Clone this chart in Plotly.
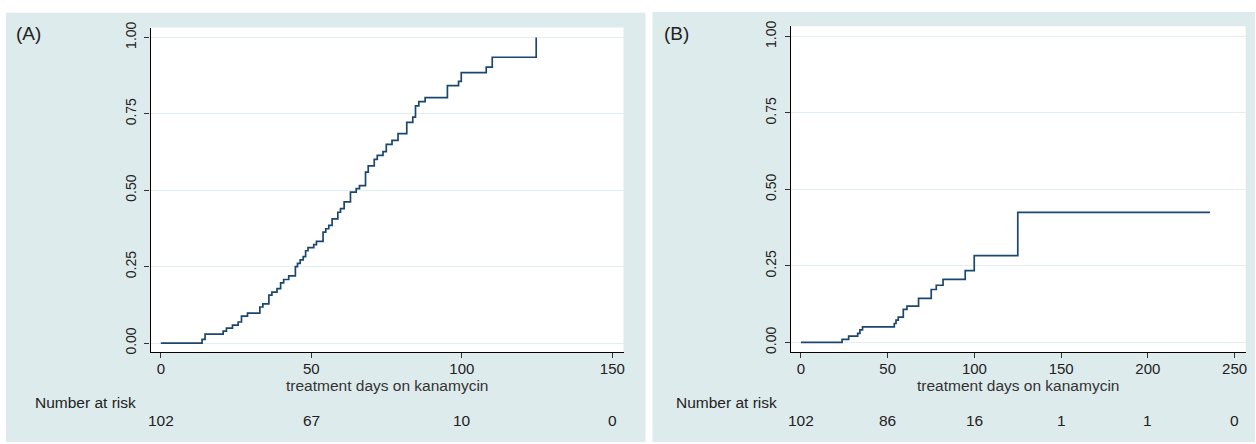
import plotly.graph_objects as go

# ---------------- data ----------------
# Panel A: cumulative incidence steps (day, value after step)
days_a = [0, 13.7, 14.7, 20.7, 21.8, 23.8, 25.7, 26.8, 28.8, 32.9, 33.9, 35.9, 36.9,
          38.6, 39.8, 40.8, 42.5, 44.7, 45.4, 46.3, 47.3, 48.1, 48.9, 50.8, 51.7, 53.9,
          54.8, 55.8, 56.9, 58.8, 59.7, 60.9, 63.0, 64.9, 66.0, 68.0, 68.9, 70.9, 71.9,
          73.8, 74.9, 76.8, 78.8, 81.7, 83.7, 84.6, 85.7, 87.8, 95.2, 98.9, 99.8,
          108.1, 110.1, 124.7]
cum_a = [0, 0.012, 0.029, 0.039, 0.049, 0.059, 0.069, 0.088, 0.098, 0.118, 0.128,
         0.157, 0.167, 0.178, 0.197, 0.208, 0.220, 0.250, 0.261, 0.272, 0.283, 0.302,
         0.312, 0.322, 0.333, 0.363, 0.374, 0.385, 0.406, 0.428, 0.440, 0.462, 0.494,
         0.505, 0.515, 0.559, 0.580, 0.601, 0.614, 0.626, 0.650, 0.663, 0.685, 0.722,
         0.739, 0.776, 0.790, 0.803, 0.842, 0.856, 0.885, 0.903, 0.935, 1.0]

# Panel B
days_b = [0, 23.7, 27.5, 32.7, 34.0, 35.5, 53.8, 54.8, 56.1, 59.0, 61.1, 67.8, 75.1,
          78.0, 81.9, 94.7, 99.9, 125.0, 235.8]
cum_b = [0, 0.010, 0.021, 0.030, 0.041, 0.051, 0.062, 0.073, 0.083, 0.108, 0.119,
         0.144, 0.173, 0.187, 0.206, 0.235, 0.284, 0.425, 0.425]

risk_ticks_a = [0, 50, 100, 150]
risk_a = [102, 67, 10, 0]
risk_ticks_b = [0, 50, 100, 150, 200, 250]
risk_b = [102, 86, 16, 1, 1, 0]

y_ticks = [0, 0.25, 0.5, 0.75, 1.0]
y_labels = ["0.00", "0.25", "0.50", "0.75", "1.00"]
x_title = "treatment days on kanamycin"
risk_title = "Number at risk"
panel_labels = ["(A)", "(B)"]

# ---------------- layout helpers ----------------
W, H = 1256, 444
def fx(x):
    return x / W
def fy(y):
    return 1 - y / H

FONT = "Liberation Sans, Arial, Helvetica, sans-serif"
BG = "#deebec"
GRID = "#e3eef0"
LINE = "#1a476f"

# plot-area pixel boxes
A = dict(l=150.7, r=624.0, t=22.0, b=352.3)
B = dict(l=791.7, r=1246.7, t=20.7, b=352.3)

fig = go.Figure()
fig.add_trace(go.Scatter(x=days_a, y=cum_a, mode="lines", line=dict(shape="hv", color=LINE, width=1.7),
                         xaxis="x", yaxis="y", showlegend=False, hoverinfo="skip"))
fig.add_trace(go.Scatter(x=days_b, y=cum_b, mode="lines", line=dict(shape="hv", color=LINE, width=1.7),
                         xaxis="x2", yaxis="y2", showlegend=False, hoverinfo="skip"))

def xaxis_cfg(box, rng, ticks, anchor):
    return dict(domain=[fx(box["l"]), fx(box["r"])], range=rng, tickvals=ticks,
                ticktext=[str(t) for t in ticks], ticks="outside", ticklen=5, tickwidth=1.2,
                tickcolor="#333", showline=True, linecolor="black", linewidth=1.3,
                showgrid=False, zeroline=False, anchor=anchor, ticklabelstandoff=-2,
                tickfont=dict(family=FONT, size=15, color="#222"))

def yaxis_cfg(box, rng, anchor):
    return dict(domain=[fy(box["b"]), fy(box["t"])], range=rng, tickvals=y_ticks,
                ticktext=y_labels, tickangle=-90, ticks="outside", ticklen=5, tickwidth=1.2,
                tickcolor="#333", showline=True, linecolor="black", linewidth=1.3,
                showgrid=True, gridcolor=GRID, gridwidth=1.3, zeroline=False, anchor=anchor,
                ticklabelstandoff=3,
                tickfont=dict(family=FONT, size=14, color="#222"))

shapes = [
    dict(type="rect", xref="paper", yref="paper", x0=fx(6), x1=fx(646), y0=fy(444), y1=fy(7),
         fillcolor=BG, line=dict(width=0), layer="below"),
    dict(type="rect", xref="paper", yref="paper", x0=fx(653), x1=fx(1256), y0=fy(444), y1=fy(6),
         fillcolor=BG, line=dict(width=0), layer="below"),
    dict(type="rect", xref="paper", yref="paper", x0=fx(A["l"]), x1=fx(A["r"]), y0=fy(A["b"]), y1=fy(A["t"]),
         fillcolor="white", line=dict(width=0), layer="below"),
    dict(type="rect", xref="paper", yref="paper", x0=fx(B["l"]), x1=fx(B["r"]), y0=fy(B["b"]), y1=fy(B["t"]),
         fillcolor="white", line=dict(width=0), layer="below"),
]

ann = []
# axis titles
for box in (A, B):
    ann.append(dict(text=x_title, xref="paper", yref="paper", x=fx((box["l"] + box["r"]) / 2), y=fy(386.5),
                    xanchor="center", yanchor="middle", showarrow=False,
                    font=dict(family=FONT, size=15.5, color="#333")))
    ann.append(dict(text=risk_title, xref="paper", yref="paper", x=fx(box["l"] - 12.5), y=fy(403.5),
                    xanchor="right", yanchor="middle", showarrow=False,
                    font=dict(family=FONT, size=15.5, color="#222")))
for xr, ticks, vals in (("x", risk_ticks_a, risk_a), ("x2", risk_ticks_b, risk_b)):
    for t, v in zip(ticks, vals):
        ann.append(dict(text=str(v), xref=xr, yref="paper", x=t, y=fy(421.7),
                        xanchor="center", yanchor="middle", showarrow=False,
                        font=dict(family=FONT, size=15.5, color="#222")))
ann.append(dict(text=panel_labels[0], xref="paper", yref="paper", x=fx(29), y=fy(28.5),
                xanchor="center", yanchor="middle", showarrow=False,
                font=dict(family=FONT, size=19, color="#222")))
ann.append(dict(text=panel_labels[1], xref="paper", yref="paper", x=fx(677), y=fy(27.5),
                xanchor="center", yanchor="middle", showarrow=False,
                font=dict(family=FONT, size=19, color="#222")))

fig.update_layout(
    width=W, height=H, autosize=False,
    margin=dict(l=0, r=0, t=0, b=0, pad=0),
    paper_bgcolor="white", plot_bgcolor="white",
    xaxis=xaxis_cfg(A, [-3.4, 153.7], risk_ticks_a, "y"),
    yaxis=yaxis_cfg(A, [-0.029, 1.032], "x"),
    xaxis2=xaxis_cfg(B, [-5.7, 256.4], risk_ticks_b, "y2"),
    yaxis2=yaxis_cfg(B, [-0.031, 1.033], "x2"),
    shapes=shapes, annotations=ann, showlegend=False,
)

fig.write_html("out.html", config={"displayModeBar": False},
               post_script="document.body.style.margin='0';document.body.style.overflow='hidden';")
